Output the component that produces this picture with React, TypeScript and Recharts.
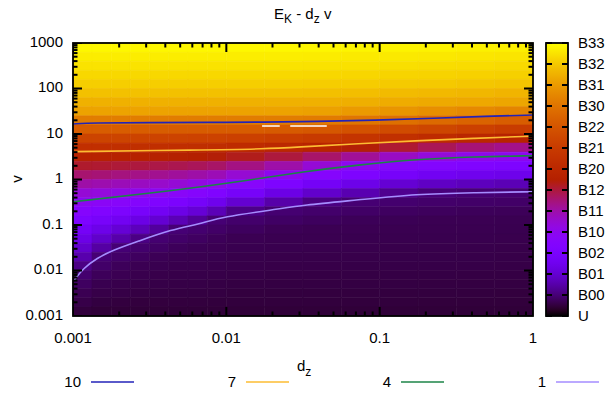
import { ComposedChart, Line, ReferenceArea, XAxis, YAxis } from "recharts"

const W = 605
const H = 394
const X_AXIS_H = 30
const Y_AXIS_W = 60
const PLOT = { top: 43, right: 72, bottom: 78, left: 73 }
const MARGIN = { top: PLOT.top, right: PLOT.right, bottom: PLOT.bottom - X_AXIS_H, left: PLOT.left - Y_AXIS_W }
const FONT = '"Liberation Sans", Arial, Helvetica, sans-serif'
const TICK_W = 2

// heat map bins (d_z finer in the first decade, v in fifth decades, top row first)
const DZ_EDGES = [
  0.001, 0.00133, 0.00178, 0.00237, 0.00316, 0.00422, 0.00562, 0.0075, 0.01,
  0.0178, 0.0316, 0.0562, 0.1, 0.178, 0.316, 0.562, 1,
]
const V_EDGES = [
  1000, 631, 398, 251, 158, 100, 63.1, 39.8, 25.1, 15.8, 10, 6.31, 3.98, 2.51, 1.58, 1,
  0.631, 0.398, 0.251, 0.158, 0.1, 0.0631, 0.0398, 0.0251, 0.0158, 0.01, 0.00631, 0.00398,
  0.00251, 0.00158, 0.001,
]

// colour-box value of every cell, one list per d_z column, from v = 1000 down to v = 0.001
const Z_TOP = [12.86, 12.68, 12.5, 12.3, 12.1, 11.84, 11.52, 11.2, 10.24]
const Z_COLUMNS = [
  [...Z_TOP, 9.3, 8.36, 7.42, 6.69, 6.13, 5.57, 5.02, 4.46, 3.93, 3.53, 3.13, 2.73, 2.34, 1.94, 1.54, 1.14, 0.92, 0.8, 0.69, 0.6, 0.5],
  [...Z_TOP, 9.3, 8.36, 7.42, 6.68, 6.1, 5.51, 4.93, 4.35, 3.81, 3.33, 2.86, 2.38, 1.9, 1.43, 0.99, 0.87, 0.75, 0.66, 0.6, 0.53, 0.47],
  [...Z_TOP, 9.29, 8.35, 7.4, 6.65, 6.04, 5.43, 4.83, 4.22, 3.66, 3.12, 2.58, 2.05, 1.51, 0.99, 0.87, 0.75, 0.69, 0.63, 0.58, 0.52, 0.47],
  [...Z_TOP, 9.29, 8.33, 7.38, 6.62, 5.99, 5.35, 4.72, 4.08, 3.49, 2.9, 2.31, 1.72, 1.13, 0.91, 0.79, 0.69, 0.64, 0.6, 0.56, 0.51, 0.47],
  [...Z_TOP, 9.28, 8.32, 7.36, 6.59, 5.92, 5.26, 4.6, 3.94, 3.29, 2.65, 2.0, 1.36, 0.95, 0.83, 0.71, 0.66, 0.62, 0.59, 0.55, 0.51, 0.47],
  [...Z_TOP, 9.27, 8.31, 7.34, 6.55, 5.85, 5.15, 4.45, 3.75, 3.05, 2.35, 1.65, 0.99, 0.87, 0.75, 0.68, 0.64, 0.61, 0.58, 0.54, 0.51, 0.47],
  [...Z_TOP, 9.27, 8.29, 7.32, 6.5, 5.76, 5.02, 4.27, 3.53, 2.8, 2.06, 1.33, 0.93, 0.81, 0.7, 0.67, 0.64, 0.61, 0.58, 0.54, 0.51, 0.47],
  [...Z_TOP, 9.26, 8.28, 7.3, 6.44, 5.65, 4.86, 4.06, 3.26, 2.46, 1.66, 0.98, 0.86, 0.74, 0.69, 0.66, 0.63, 0.6, 0.57, 0.54, 0.5, 0.47],
  [...Z_TOP, 9.24, 8.22, 7.2, 6.28, 5.39, 4.49, 3.63, 2.81, 1.99, 1.16, 0.9, 0.78, 0.69, 0.66, 0.63, 0.61, 0.58, 0.55, 0.52, 0.5, 0.47],
  [...Z_TOP, 9.18, 8.09, 7.0, 6.0, 5.0, 4.0, 3.17, 2.33, 1.5, 0.95, 0.83, 0.71, 0.67, 0.65, 0.62, 0.6, 0.57, 0.55, 0.52, 0.5, 0.47],
  [12.85, 12.67, 12.49, 12.29, 12.09, 11.82, 11.5, 11.15, 10.19, 9.08, 7.92, 6.77, 5.62, 4.46, 3.52, 2.72, 1.92, 1.12, 0.9, 0.78, 0.69, 0.67, 0.64, 0.62, 0.6, 0.57, 0.55, 0.52, 0.5, 0.47],
  [12.82, 12.64, 12.46, 12.26, 12.06, 11.78, 11.46, 11.0, 10.05, 8.86, 7.66, 6.44, 5.19, 3.96, 3.17, 2.38, 1.59, 0.97, 0.85, 0.73, 0.69, 0.66, 0.64, 0.62, 0.59, 0.57, 0.55, 0.52, 0.5, 0.47],
  [12.8, 12.62, 12.43, 12.23, 12.03, 11.73, 11.41, 10.86, 9.88, 8.65, 7.43, 6.09, 4.7, 3.61, 2.82, 2.03, 1.24, 0.92, 0.8, 0.7, 0.67, 0.65, 0.63, 0.61, 0.59, 0.57, 0.55, 0.52, 0.5, 0.47],
  [12.77, 12.59, 12.4, 12.2, 12.0, 11.68, 11.36, 10.72, 9.69, 8.44, 7.19, 5.79, 4.36, 3.41, 2.62, 1.83, 1.04, 0.89, 0.77, 0.69, 0.67, 0.65, 0.63, 0.61, 0.59, 0.57, 0.54, 0.52, 0.49, 0.47],
  [12.74, 12.56, 12.37, 12.17, 11.95, 11.63, 11.31, 10.58, 9.49, 8.21, 6.93, 5.5, 4.07, 3.27, 2.5, 1.73, 0.99, 0.87, 0.75, 0.69, 0.67, 0.65, 0.63, 0.61, 0.59, 0.56, 0.54, 0.52, 0.49, 0.47],
  [12.72, 12.54, 12.34, 12.14, 11.9, 11.58, 11.26, 10.43, 9.3, 8.02, 6.72, 5.32, 3.96, 3.19, 2.42, 1.65, 0.98, 0.86, 0.74, 0.68, 0.66, 0.64, 0.62, 0.6, 0.58, 0.56, 0.54, 0.51, 0.49, 0.47],
]

// contour lines
const C10_DZ = [0.001, 0.00135, 0.003, 0.01, 0.03, 0.1, 0.224, 0.5, 1]
const C10_V = [16.6, 17.5, 17.8, 18.0, 18.5, 20.2, 22.1, 24.5, 26.2]
const C7_DZ = [0.001, 0.0067, 0.018, 0.0316, 0.072, 0.17, 0.41, 1]
const C7_V = [4.1, 4.45, 4.67, 5.25, 6.1, 7.1, 8.0, 9.0]
const C4_DZ = [0.001, 0.0045, 0.0122, 0.0316, 0.072, 0.175, 0.41, 1]
const C4_V = [0.325, 0.57, 0.9, 1.48, 2.09, 2.78, 3.16, 3.33]
const C1_DZ = [0.00102, 0.00117, 0.00143, 0.00183, 0.0026, 0.0044, 0.0067, 0.0095, 0.0202, 0.0316, 0.072, 0.174, 0.41, 1]
const C1_V = [0.0062, 0.0112, 0.0186, 0.0282, 0.0427, 0.08, 0.105, 0.152, 0.214, 0.275, 0.355, 0.48, 0.513, 0.54]
// short white pieces near v = 15
const WHITE_DZ = [0.0171, 0.0223, 0.024, 0.0261, 0.0452]
const WHITE_V = [15, 15, null, 15, 15]

const CONTOUR_LEVELS = ["10", "7", "4", "1"]
const CONTOUR_COLORS = ["#2323b8", "#fcbc32", "#1c8447", "#a58cff"]

const CB_LABELS = ["U", "B00", "B01", "B02", "B10", "B11", "B12", "B20", "B21", "B22", "B30", "B31", "B32", "B33"]

const X_DOMAIN = [0.001, 1]
const Y_DOMAIN = [0.001, 1000]
const DECADES_X = [0.001, 0.01, 0.1]
const DECADES_Y = [0.001, 0.01, 0.1, 1, 10, 100]
const X_TICKS = [...DECADES_X.flatMap((d) => [1, 2, 3, 4, 5, 6, 7, 8, 9].map((m) => +(d * m).toPrecision(3))), 1]
const Y_TICKS = [...DECADES_Y.flatMap((d) => [1, 2, 3, 4, 5, 6, 7, 8, 9].map((m) => +(d * m).toPrecision(3))), 1000]

// gnuplot rgbformulae 7,5,15 over the 0..13 colour range
function cbColor(z: number) {
  const t = Math.min(1, Math.max(0, z / 13))
  const r = Math.sqrt(t)
  const g = t * t * t
  const b = Math.max(0, Math.sin(2 * Math.PI * t))
  return `rgb(${Math.round(r * 255)},${Math.round(g * 255)},${Math.round(b * 255)})`
}

const isDecade = (v: number) => Math.abs(Math.log10(v) - Math.round(Math.log10(v))) < 1e-6
const tickLen = (v: number) => (isDecade(v) ? 9 : 4.5)

const cells = Z_COLUMNS.flatMap((col, i) =>
  col.map((z, j) => ({
    key: `c-${i}-${j}`,
    x1: DZ_EDGES[i],
    x2: DZ_EDGES[i + 1],
    y1: V_EDGES[j + 1],
    y2: V_EDGES[j],
    fill: cbColor(z),
  }))
)

const zip = (xs: number[], ys: (number | null)[]) => xs.map((dz, i) => ({ dz, v: ys[i] }))
const contours = [zip(C10_DZ, C10_V), zip(C7_DZ, C7_V), zip(C4_DZ, C4_V), zip(C1_DZ, C1_V)]

// inward tick marks on all four borders (gnuplot mirrors them), drawn as dots of invisible lines
const tickRows = [
  { key: "bottom", data: X_TICKS.map((t) => ({ dz: t, v: Y_DOMAIN[0] })), dx: 0, dy: -1, of: "dz" },
  { key: "top", data: X_TICKS.map((t) => ({ dz: t, v: Y_DOMAIN[1] })), dx: 0, dy: 1, of: "dz" },
  { key: "left", data: Y_TICKS.map((t) => ({ dz: X_DOMAIN[0], v: t })), dx: 1, dy: 0, of: "v" },
  { key: "right", data: Y_TICKS.map((t) => ({ dz: X_DOMAIN[1], v: t })), dx: -1, dy: 0, of: "v" },
]

function DzLabel({ x, y, payload }: any) {
  if (!isDecade(payload.value)) return <g />
  return (
    <text x={x} y={y + 27} textAnchor="middle" fontSize={15} fontFamily={FONT} fill="#000">
      {String(payload.value)}
    </text>
  )
}

function VLabel({ x, y, payload }: any) {
  if (!isDecade(payload.value)) return <g />
  return (
    <text x={x - 10} y={y + 3.5} textAnchor="end" fontSize={15} fontFamily={FONT} fill="#000">
      {String(payload.value)}
    </text>
  )
}

export default function App() {
  const plotH = H - PLOT.top - PLOT.bottom
  const cbX = 546
  const cbW = 22
  const step = plotH / 13

  return (
    <div style={{ position: "absolute", left: 0, top: 0, width: W, height: H, background: "#fff" }}>
      <ComposedChart width={W} height={H} margin={MARGIN}>
        {cells.map((c) => (
          <ReferenceArea
            key={c.key}
            x1={c.x1}
            x2={c.x2}
            y1={c.y1}
            y2={c.y2}
            fill={c.fill}
            fillOpacity={1}
            stroke={c.fill}
            strokeWidth={0.6}
          />
        ))}
        {contours.map((d, i) => (
          <Line
            key={CONTOUR_LEVELS[i]}
            data={d}
            dataKey="v"
            type="basis"
            stroke={CONTOUR_COLORS[i]}
            strokeWidth={1.6}
            dot={false}
            isAnimationActive={false}
          />
        ))}
        <Line
          data={zip(WHITE_DZ, WHITE_V)}
          dataKey="v"
          stroke="#ffffff"
          strokeWidth={1.6}
          dot={false}
          connectNulls={false}
          isAnimationActive={false}
        />
        {tickRows.map((row) => (
          <Line
            key={row.key}
            data={row.data}
            dataKey="v"
            stroke="none"
            isAnimationActive={false}
            dot={(p: any) => {
              const len = tickLen(p.payload[row.of])
              return (
                <line
                  key={`${row.key}-${p.index}`}
                  x1={p.cx}
                  y1={p.cy}
                  x2={p.cx + row.dx * len}
                  y2={p.cy + row.dy * len}
                  stroke="#000"
                  strokeWidth={TICK_W}
                />
              )
            }}
          />
        ))}
        <XAxis
          dataKey="dz"
          type="number"
          scale="log"
          domain={X_DOMAIN}
          allowDataOverflow
          ticks={X_TICKS}
          interval={0}
          tick={(p: any) => <DzLabel {...p} />}
          tickLine={false}
          axisLine={false}
          tickSize={0}
          tickMargin={0}
          height={X_AXIS_H}
        />
        <YAxis
          dataKey="v"
          type="number"
          scale="log"
          domain={Y_DOMAIN}
          allowDataOverflow
          ticks={Y_TICKS}
          interval={0}
          tick={(p: any) => <VLabel {...p} />}
          tickLine={false}
          axisLine={false}
          tickSize={0}
          tickMargin={0}
          width={Y_AXIS_W}
        />
      </ComposedChart>

      <svg width={W} height={H} style={{ position: "absolute", left: 0, top: 0, pointerEvents: "none" }}>
        <defs>
          <linearGradient id="cb" x1="0" y1="1" x2="0" y2="0">
            {Array.from({ length: 53 }, (_, i) => (
              <stop key={i} offset={i / 52} stopColor={cbColor((i / 52) * 13)} />
            ))}
          </linearGradient>
        </defs>

        <rect x={PLOT.left} y={PLOT.top} width={W - PLOT.left - PLOT.right} height={plotH} fill="none" stroke="#000" strokeWidth={1.8} />

        <rect x={cbX} y={PLOT.top} width={cbW} height={plotH} fill="url(#cb)" stroke="#000" strokeWidth={1.8} />
        {CB_LABELS.map((lab, k) => {
          const y = PLOT.top + plotH - k * step
          return (
            <g key={lab}>
              <line x1={cbX} x2={cbX + 6} y1={y} y2={y} stroke="#000" strokeWidth={TICK_W} />
              <line x1={cbX + cbW - 6} x2={cbX + cbW} y1={y} y2={y} stroke="#000" strokeWidth={TICK_W} />
              <text x={578} y={y + 5} fontSize={15} fontFamily={FONT} fill="#000">
                {lab}
              </text>
            </g>
          )
        })}

        <text x={274} y={18.5} fontSize={15} fontFamily={FONT} fill="#000">
          E<tspan fontSize={12} dy={4.5}>K</tspan>
          <tspan dy={-4.5}> - d</tspan>
          <tspan fontSize={12} dy={4.5}>z</tspan>
          <tspan dy={-4.5}> v</tspan>
        </text>

        <text x={297} y={371} fontSize={15} fontFamily={FONT} fill="#000">
          d<tspan fontSize={12} dy={5}>z</tspan>
        </text>

        <text transform="translate(21.5,179) rotate(-90)" textAnchor="middle" fontSize={15} fontFamily={FONT} fill="#000">
          v
        </text>

        {CONTOUR_LEVELS.map((lev, i) => {
          const x0 = 81 + i * 155
          return (
            <g key={lev}>
              <text x={x0} y={387} textAnchor="end" fontSize={15} fontFamily={FONT} fill="#000">
                {lev}
              </text>
              <line x1={x0 + 10} x2={x0 + 53} y1={382} y2={382} stroke={CONTOUR_COLORS[i]} strokeWidth={1.6} />
            </g>
          )
        })}
      </svg>
    </div>
  )
}
